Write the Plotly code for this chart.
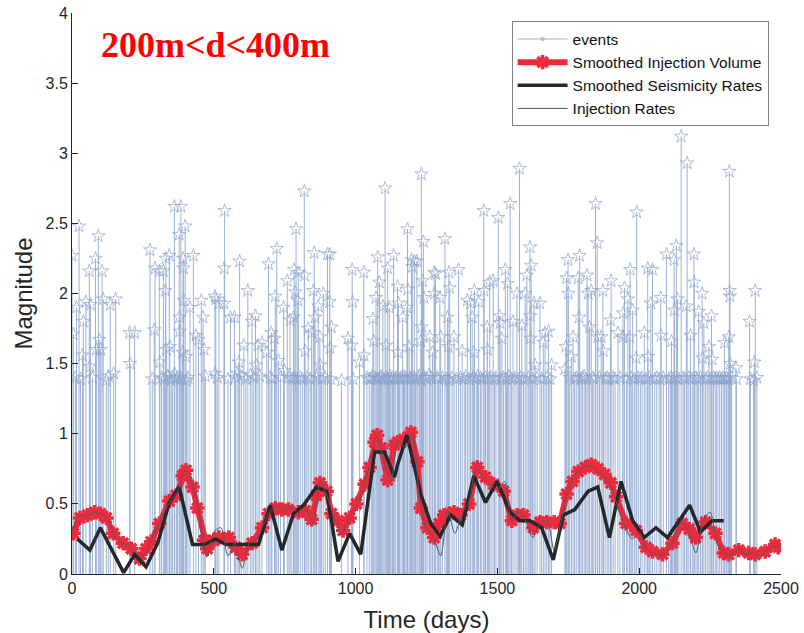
import plotly.graph_objects as go

# ---- catalogue events (day, magnitude) ----
event_day = [0, 5, 12, 16, 25, 30, 37, 40, 49, 61, 63, 65, 72, 83, 86, 93, 96, 101, 106, 110, 121, 128, 135, 147, 154,
             203, 205, 221, 275, 283, 290, 293, 308, 310, 316, 322, 326, 329, 331, 333, 338, 343, 345, 350, 355, 361,
             362, 368, 372, 378, 379, 380, 384, 386, 390, 392, 393, 394, 399, 402, 404, 409, 416, 428, 437, 446, 456,
             462, 466, 470, 504, 505, 507, 512, 518, 536, 537, 538, 550, 559, 573, 576, 582, 588, 591, 597, 606, 613,
             620, 629, 635, 641, 647, 649, 656, 662, 670, 687, 693, 698, 703, 705, 714, 717, 722, 728, 735, 746, 749,
             759, 765, 769, 775, 781, 782, 783, 787, 790, 793, 796, 798, 805, 812, 819, 820, 822, 828, 833, 840, 845,
             851, 854, 857, 862, 868, 874, 875, 880, 886, 893, 901, 908, 909, 910, 912, 915, 950, 973, 985, 988, 989,
             991, 1014, 1029, 1030, 1040, 1048, 1055, 1058, 1061, 1064, 1068, 1072, 1075, 1078, 1080, 1084, 1088,
             1092, 1096, 1100, 1104, 1107, 1110, 1113, 1116, 1119, 1122, 1125, 1130, 1134, 1138, 1142, 1148, 1149,
             1151, 1155, 1160, 1166, 1169, 1172, 1177, 1181, 1183, 1184, 1189, 1192, 1195, 1197, 1200, 1203, 1207,
             1211, 1216, 1220, 1225, 1230, 1231, 1232, 1233, 1236, 1239, 1241, 1246, 1252, 1259, 1262, 1266, 1271,
             1277, 1278, 1282, 1288, 1292, 1297, 1300, 1306, 1315, 1320, 1324, 1327, 1329, 1330, 1332, 1340, 1347,
             1355, 1363, 1370, 1376, 1383, 1388, 1394, 1400, 1405, 1411, 1414, 1417, 1419, 1425, 1430, 1434, 1440,
             1445, 1452, 1453, 1458, 1464, 1465, 1469, 1473, 1478, 1485, 1490, 1495, 1503, 1508, 1509, 1512, 1516,
             1521, 1528, 1532, 1536, 1540, 1545, 1550, 1555, 1562, 1569, 1574, 1578, 1582, 1586, 1592, 1598, 1604,
             1609, 1615, 1616, 1617, 1619, 1624, 1629, 1633, 1640, 1650, 1656, 1662, 1668, 1674, 1680, 1685, 1691,
             1738, 1741, 1744, 1749, 1750, 1755, 1761, 1767, 1772, 1778, 1785, 1788, 1790, 1795, 1800, 1806, 1811,
             1816, 1820, 1825, 1831, 1836, 1840, 1846, 1852, 1854, 1860, 1866, 1872, 1874, 1880, 1887, 1893, 1899,
             1901, 1908, 1915, 1925, 1932, 1942, 1943, 1948, 1955, 1960, 1966, 1968, 1972, 1977, 1983, 1989, 1991,
             1997, 2004, 2010, 2018, 2024, 2030, 2031, 2036, 2041, 2047, 2055, 2062, 2070, 2076, 2077, 2085, 2096,
             2104, 2110, 2114, 2118, 2123, 2124, 2128, 2131, 2135, 2140, 2148, 2155, 2160, 2166, 2169, 2175, 2181,
             2187, 2193, 2194, 2200, 2205, 2210, 2216, 2222, 2223, 2228, 2234, 2240, 2246, 2250, 2255, 2257, 2262,
             2268, 2272, 2278, 2284, 2290, 2296, 2301, 2302, 2308, 2313, 2316, 2318, 2319, 2320, 2321, 2326, 2341,
             2343, 2389, 2392, 2403, 2406, 2409, 2415]
event_mag = [2.27, 1.71, 1.40, 1.90, 2.48, 1.39, 1.56, 1.80, 1.94, 2.16, 1.48, 1.92, 1.40, 2.25, 1.60, 2.41, 1.67, 1.60,
             2.16, 1.96, 1.38, 1.41, 1.92, 1.43, 1.96, 1.72, 1.50, 1.72, 2.31, 1.39, 1.74, 2.18, 2.16, 1.51, 1.40, 2.16,
             1.39, 2.02, 2.25, 1.60, 1.41, 2.27, 1.62, 1.38, 1.40, 2.62, 1.43, 1.39, 1.40, 2.42, 1.83, 1.73, 2.62, 1.39,
             1.58, 2.25, 2.18, 1.95, 2.48, 1.55, 1.38, 1.40, 1.90, 2.27, 1.70, 1.67, 1.95, 1.83, 1.60, 1.41, 1.98, 1.43,
             1.96, 1.40, 1.93, 1.93, 2.18, 2.59, 1.39, 1.83, 1.83, 1.40, 1.43, 1.51, 2.23, 1.41, 1.63, 1.39, 2.02, 1.42,
             1.80, 1.40, 1.84, 1.49, 1.63, 1.41, 1.65, 1.58, 2.21, 1.40, 1.72, 1.39, 1.68, 1.98, 2.32, 1.52, 1.40, 1.90,
             1.45, 2.09, 1.40, 1.81, 1.39, 1.83, 1.40, 2.17, 2.01, 2.46, 1.39, 1.95, 2.15, 1.40, 1.39, 2.73, 2.13, 1.59,
             1.40, 1.75, 1.39, 1.72, 2.02, 2.29, 1.83, 1.40, 1.91, 1.69, 1.49, 1.39, 2.00, 1.40, 2.28, 1.94, 2.28, 1.61,
             1.39, 1.76, 1.38, 1.68, 1.63, 2.17, 1.94, 1.39, 1.51, 2.15, 1.56, 1.40, 1.39, 1.39, 1.41, 1.82, 1.66, 1.40,
             1.97, 1.39, 2.26, 1.39, 2.08, 1.40, 1.41, 1.91, 1.39, 2.75, 1.63, 1.40, 2.18, 1.39, 1.90, 1.41, 1.39, 1.40,
             2.27, 1.39, 1.40, 2.05, 1.58, 1.93, 1.39, 1.40, 1.83, 1.41, 1.39, 1.40, 1.90, 2.46, 2.03, 1.62, 1.40, 1.39,
             2.24, 2.19, 1.40, 2.23, 1.39, 2.23, 1.40, 1.41, 1.66, 1.38, 2.85, 1.76, 2.09, 2.37, 1.97, 1.40, 1.39, 1.42,
             1.69, 1.40, 1.58, 2.15, 2.00, 2.14, 1.40, 1.39, 1.97, 1.69, 1.40, 2.39, 1.39, 1.83, 1.62, 2.15, 1.38, 2.04,
             1.40, 1.69, 1.39, 2.17, 1.40, 1.59, 1.39, 1.41, 1.95, 1.39, 1.93, 1.83, 1.40, 1.58, 2.02, 1.39, 1.41, 1.94,
             1.40, 1.39, 2.59, 2.02, 1.40, 1.76, 1.60, 1.39, 2.08, 1.40, 2.09, 1.39, 1.40, 2.54, 1.84, 1.79, 1.39, 1.68,
             1.40, 2.17, 1.39, 2.07, 1.41, 2.64, 1.39, 1.80, 1.40, 2.00, 1.39, 2.89, 1.40, 1.77, 1.39, 2.00, 2.13, 1.40,
             2.33, 1.84, 1.68, 2.20, 1.39, 1.93, 1.49, 1.40, 1.93, 1.39, 1.65, 1.72, 1.40, 1.73, 1.39, 1.49, 1.46, 1.62,
             2.11, 2.24, 2.00, 1.40, 1.55, 1.69, 1.39, 1.40, 2.11, 1.83, 2.27, 1.39, 1.40, 1.41, 1.39, 2.13, 2.00, 1.76,
             2.02, 1.40, 1.39, 2.64, 2.36, 1.69, 1.40, 1.69, 2.02, 1.59, 1.39, 1.40, 1.39, 1.81, 2.09, 1.40, 1.39, 1.72,
             1.40, 1.69, 1.86, 2.04, 1.39, 1.96, 1.69, 2.17, 1.40, 1.88, 1.39, 1.54, 2.58, 1.40, 1.39, 1.40, 1.72, 1.39,
             2.18, 1.55, 1.40, 1.93, 2.17, 1.39, 1.40, 1.39, 1.97, 1.70, 1.40, 2.28, 1.39, 1.40, 1.66, 1.39, 2.24, 1.88,
             1.40, 2.34, 1.96, 1.39, 3.12, 1.40, 1.39, 1.91, 2.93, 1.40, 1.70, 1.39, 2.28, 2.08, 1.40, 1.39, 1.87, 1.40,
             2.00, 1.54, 1.79, 1.39, 1.40, 1.62, 1.39, 1.84, 1.53, 1.40, 1.39, 1.40, 1.39, 1.40, 1.39, 1.40, 1.65, 1.39,
             1.40, 1.39, 1.69, 2.87, 2.02, 1.98, 1.50, 1.40, 1.47, 1.39, 1.80, 1.39, 1.38, 1.51, 2.02, 1.40]

# ---- smoothed injection volume ----
vol_day = [5, 28, 55, 80, 100, 121, 145, 180, 209, 238, 261, 279, 308, 343, 367, 390, 402, 425, 442, 466, 477,
           500, 518, 553, 577, 600, 635, 670, 693, 717, 740, 763, 798, 822, 845, 862, 874, 898, 915, 938, 956,
           979, 1003, 1032, 1049, 1067, 1076, 1090, 1113, 1137, 1148, 1170, 1195, 1218, 1230, 1253, 1277, 1295,
           1312, 1330, 1347, 1370, 1400, 1429, 1458, 1487, 1522, 1551, 1570, 1592, 1627, 1650, 1674, 1700, 1720,
           1744, 1765, 1785, 1810, 1831, 1855, 1878, 1900, 1919, 1954, 1989, 2024, 2047, 2082, 2117, 2152, 2176,
           2199, 2234, 2269, 2298, 2316, 2351, 2386, 2409, 2444, 2479, 2490]
vol_val = [0.29, 0.40, 0.42, 0.44, 0.43, 0.40, 0.29, 0.22, 0.18, 0.11, 0.18, 0.23, 0.36, 0.52, 0.56, 0.70, 0.74,
           0.62, 0.47, 0.24, 0.18, 0.24, 0.26, 0.26, 0.19, 0.14, 0.22, 0.33, 0.43, 0.47, 0.46, 0.46, 0.44, 0.45,
           0.39, 0.56, 0.65, 0.59, 0.43, 0.38, 0.31, 0.40, 0.50, 0.64, 0.76, 0.94, 0.99, 0.90, 0.67, 0.92, 0.94,
           0.96, 1.01, 0.80, 0.47, 0.33, 0.26, 0.36, 0.42, 0.43, 0.44, 0.42, 0.50, 0.76, 0.69, 0.64, 0.59, 0.38,
           0.42, 0.42, 0.33, 0.37, 0.37, 0.37, 0.36, 0.57, 0.66, 0.73, 0.76, 0.78, 0.75, 0.71, 0.65, 0.55, 0.36,
           0.31, 0.19, 0.16, 0.14, 0.22, 0.36, 0.32, 0.26, 0.37, 0.29, 0.15, 0.14, 0.17, 0.15, 0.14, 0.16, 0.21,
           0.19]

# ---- smoothed seismicity rate ----
seis_day = [19, 63, 100, 182, 221, 261, 302, 343, 378, 425, 466, 507, 542, 658, 699, 740, 781, 816, 862, 898, 938,
            979, 1018, 1067, 1102, 1137, 1148, 1181, 1230, 1265, 1298, 1335, 1376, 1417, 1458, 1499, 1545, 1580,
            1615, 1656, 1697, 1732, 1773, 1820, 1854, 1895, 1936, 1977, 2018, 2059, 2100, 2178, 2216, 2257, 2298]
seis_val = [0.25, 0.17, 0.33, 0.01, 0.14, 0.05, 0.22, 0.51, 0.62, 0.21, 0.21, 0.25, 0.21, 0.21, 0.49, 0.17, 0.43,
            0.49, 0.62, 0.59, 0.09, 0.29, 0.14, 0.87, 0.87, 0.69, 0.78, 0.99, 0.57, 0.36, 0.27, 0.42, 0.35, 0.70,
            0.51, 0.66, 0.44, 0.38, 0.38, 0.33, 0.10, 0.42, 0.46, 0.59, 0.62, 0.26, 0.66, 0.38, 0.26, 0.33, 0.26,
            0.49, 0.30, 0.38, 0.38]

# ---- daily injection rate (25-day samples) ----
rate_day = list(range(0, 2501, 25))
rate_val = [0.30, 0.42, 0.41, 0.44, 0.43, 0.40, 0.27, 0.22, 0.20, 0.15, 0.12, 0.22, 0.33, 0.44, 0.53, 0.60, 0.74,
            0.63, 0.42, 0.12, 0.30, 0.33, 0.13, 0.22, 0.04, 0.22, 0.24, 0.35, 0.45, 0.48, 0.45, 0.47, 0.43, 0.46,
            0.36, 0.66, 0.55, 0.40, 0.28, 0.40, 0.47, 0.60, 0.78, 0.98, 0.80, 0.66, 0.95, 0.90, 1.00, 0.55, 0.32,
            0.26, 0.13, 0.45, 0.29, 0.43, 0.52, 0.74, 0.70, 0.64, 0.60, 0.66, 0.38, 0.44, 0.38, 0.26, 0.36, 0.38,
            0.17, 0.38, 0.60, 0.71, 0.76, 0.77, 0.74, 0.70, 0.62, 0.48, 0.34, 0.25, 0.30, 0.18, 0.15, 0.13, 0.16,
            0.27, 0.37, 0.30, 0.15, 0.38, 0.44, 0.22, 0.15, 0.13, 0.18, 0.14, 0.15, 0.13, 0.17, 0.20, 0.19]

# stems: each event as a vertical segment from 0 to its magnitude, star at the top
stem_x, stem_y, stem_size = [], [], []
for d, m in zip(event_day, event_mag):
    stem_x += [d, d, None]
    stem_y += [0, m, None]
    stem_size += [0, 10, 0]

STEM = "#9db2d6"
RED = "#ec2a3b"
BLACK = "#24282c"
THIN = "#4d5c63"
AXIS = "#262626"
FONT = "Liberation Sans, Arial, sans-serif"

fig = go.Figure()
fig.add_trace(go.Scatter(
    x=stem_x, y=stem_y, mode="lines+markers", name="events",
    line=dict(color=STEM, width=1),
    marker=dict(symbol="star-open", size=stem_size, color="#8aa3cc", line=dict(width=1, color="#8aa3cc")),
    connectgaps=False,
))
fig.add_trace(go.Scatter(
    x=vol_day, y=vol_val, mode="lines+markers", name="Smoothed Injection Volume",
    line=dict(color=RED, width=6),
    marker=dict(symbol="asterisk-open", size=12, color=RED, line=dict(width=3.5, color=RED)),
))
fig.add_trace(go.Scatter(
    x=seis_day, y=seis_val, mode="lines", name="Smoothed Seismicity Rates",
    line=dict(color=BLACK, width=3.5),
))
fig.add_trace(go.Scatter(
    x=rate_day, y=rate_val, mode="lines", name="Injection Rates",
    line=dict(color=THIN, width=1, shape="spline", smoothing=0.8),
))

fig.add_annotation(
    text="200m&lt;d&lt;400m", xref="paper", yref="paper", x=0.2017, y=0.943,
    xanchor="center", yanchor="middle", showarrow=False,
    font=dict(family="Liberation Serif, Times New Roman, serif", size=36, color="#ff0000", weight="bold"),
)

fig.update_layout(
    width=804, height=633,
    margin=dict(l=72, r=18, t=5, b=59),
    paper_bgcolor="white", plot_bgcolor="white",
    font=dict(family=FONT, color=AXIS, size=16),
    showlegend=True,
    legend=dict(
        x=0.62, y=0.985, xanchor="left", yanchor="top",
        bgcolor="white", bordercolor="#808080", borderwidth=1,
        font=dict(family=FONT, size=15.5, color="#111111"),
        itemwidth=50, tracegroupgap=0,
    ),
    xaxis=dict(
        range=[0, 2500], tickvals=[0, 500, 1000, 1500, 2000, 2500],
        showgrid=False, zeroline=False, showline=True, linecolor=AXIS, linewidth=1,
        ticks="inside", ticklen=6, tickcolor=AXIS, tickfont=dict(size=16, color=AXIS),
        ticklabeloverflow="allow",
        title=dict(text="Time (days)", font=dict(size=24, color=AXIS), standoff=14),
    ),
    yaxis=dict(
        range=[0, 4], tickvals=[0, 0.5, 1, 1.5, 2, 2.5, 3, 3.5, 4],
        showgrid=False, zeroline=False, showline=True, linecolor=AXIS, linewidth=1,
        ticks="inside", ticklen=6, tickcolor=AXIS, tickfont=dict(size=16, color=AXIS),
        ticklabeloverflow="allow",
        title=dict(text="Magnitude", font=dict(size=24, color=AXIS), standoff=6),
    ),
)

fig.write_html("out.html")
